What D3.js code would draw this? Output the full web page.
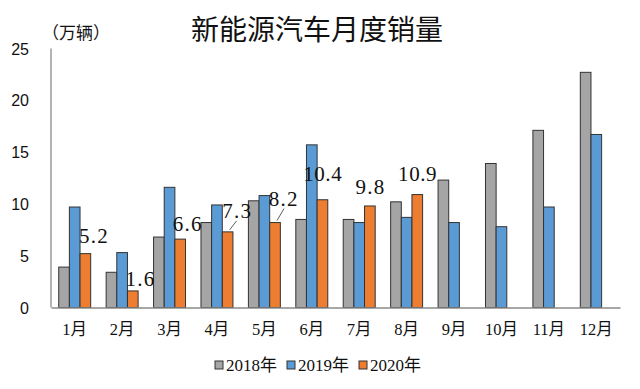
<!DOCTYPE html>
<html><head><meta charset="utf-8">
<script src="https://cdn.jsdelivr.net/npm/d3@7"></script>
<style>body{margin:0;background:#fff}svg{display:block}</style>
</head><body>
<script>
const months = ["1月","2月","3月","4月","5月","6月","7月","8月","9月","10月","11月","12月"];
const seriesNames = ["2018年","2019年","2020年"];
const sales2018 = [3.9,3.4,6.8,8.2,10.3,8.5,8.5,10.2,12.3,13.9,17.1,22.7];
const sales2019 = [9.7,5.3,11.6,9.9,10.8,15.7,8.2,8.7,8.2,7.8,9.7,16.7];
const sales2020 = [5.2,1.6,6.6,7.3,8.2,10.4,9.8,10.9,null,null,null,null];
const yTicks = [0,5,10,15,20,25];
const colors = ["#A5A5A5","#5B9BD5","#ED7D31"];

const W=640,H=389;
const svg=d3.select("body").append("svg").attr("width",W).attr("height",H);
const x=d3.scaleBand().domain(months).range([51,620]).padding(0);
const xs=d3.scaleBand().domain(seriesNames).range([x.bandwidth()*0.163,x.bandwidth()*0.837]).padding(0);
const y=d3.scaleLinear().domain([0,25]).range([307.5,48.5]);
const all=[sales2018,sales2019,sales2020];

// title
svg.append("text").attr("x",317).attr("y",40).attr("text-anchor","middle")
  .attr("font-family","'Noto Sans CJK SC'").attr("font-weight",400).attr("font-size",28).attr("fill","#111")
  .text("新能源汽车月度销量");
svg.append("text").attr("x",42).attr("y",39).attr("font-family","'Noto Sans CJK SC'").attr("font-size",17).attr("fill","#111").text("（万辆）");

// y axis
const yAxis=d3.axisLeft(y).tickValues(yTicks).tickSize(0).tickPadding(0);
const ga=svg.append("g").attr("transform","translate(29,0)").call(yAxis);
ga.select(".domain").remove();
ga.selectAll("text").attr("font-family","'Liberation Sans Narrow','Liberation Sans'").attr("font-size",16).attr("fill","#111").attr("dy","0.35em");
svg.append("line").attr("x1",51).attr("x2",51).attr("y1",y(25)).attr("y2",y(0)).attr("stroke","#8a8a8a").attr("stroke-width",1.3);

// bars
all.forEach((arr,si)=>{
  svg.append("g").selectAll("rect").data(arr.map((v,i)=>({v,m:months[i]})).filter(d=>d.v!=null))
    .enter().append("rect")
    .attr("x",d=>x(d.m)+xs(seriesNames[si]))
    .attr("width",xs.bandwidth())
    .attr("y",d=>y(d.v)).attr("height",d=>y(0)-y(d.v))
    .attr("fill",colors[si]).attr("stroke","#333").attr("stroke-width",1);
});

// x axis
const xAxis=d3.axisBottom(x).tickSize(0).tickPadding(0);
const gx=svg.append("g").attr("transform",`translate(0,${y(0)})`).call(xAxis);
gx.select(".domain").attr("stroke","#8a8a8a").attr("stroke-width",1.3);
gx.selectAll("text").attr("font-family","'Liberation Serif','Noto Sans CJK SC'").attr("font-size",16.5).attr("fill","#111").attr("dy","1.65em");

// data labels for 2020
const nudge=[[8,-18],[7,-12],[7,-16],[9,-21],[8,-24],[0,-26],[0,-20],[0,-21]];
sales2020.forEach((v,i)=>{
  if(v==null) return;
  const cx=x(months[i])+xs("2020年")+xs.bandwidth()/2;
  const ty=y(v);
  const lx=cx+nudge[i][0], ly=ty+nudge[i][1];
  const s=v.toFixed(1);
  svg.append("text").attr("x",lx).attr("y",ly).attr("dy","0.36em").attr("text-anchor","middle")
    .attr("font-family","'Liberation Serif'").attr("font-size",21).attr("fill","#111")
    .attr("textLength",s.length*9.6).attr("lengthAdjust","spacing").text(s);
  if(i===3||i===4){
    svg.append("line").attr("x1",cx+2).attr("y1",ty-2).attr("x2",cx+9).attr("y2",ly+10)
      .attr("stroke","#333").attr("stroke-width",0.8);
  }
});

// legend
const lg=svg.append("g");
const lx0=[215,287,359];
seriesNames.forEach((n,i)=>{
  lg.append("rect").attr("x",lx0[i]).attr("y",361).attr("width",8).attr("height",8)
    .attr("fill",colors[i]).attr("stroke","#333").attr("stroke-width",1);
  lg.append("text").attr("x",lx0[i]+11).attr("y",365).attr("dy","0.36em")
    .attr("font-family","'Liberation Serif','Noto Sans CJK SC'").attr("font-size",17).attr("fill","#111").text(n);
});
</script>
</body></html>
